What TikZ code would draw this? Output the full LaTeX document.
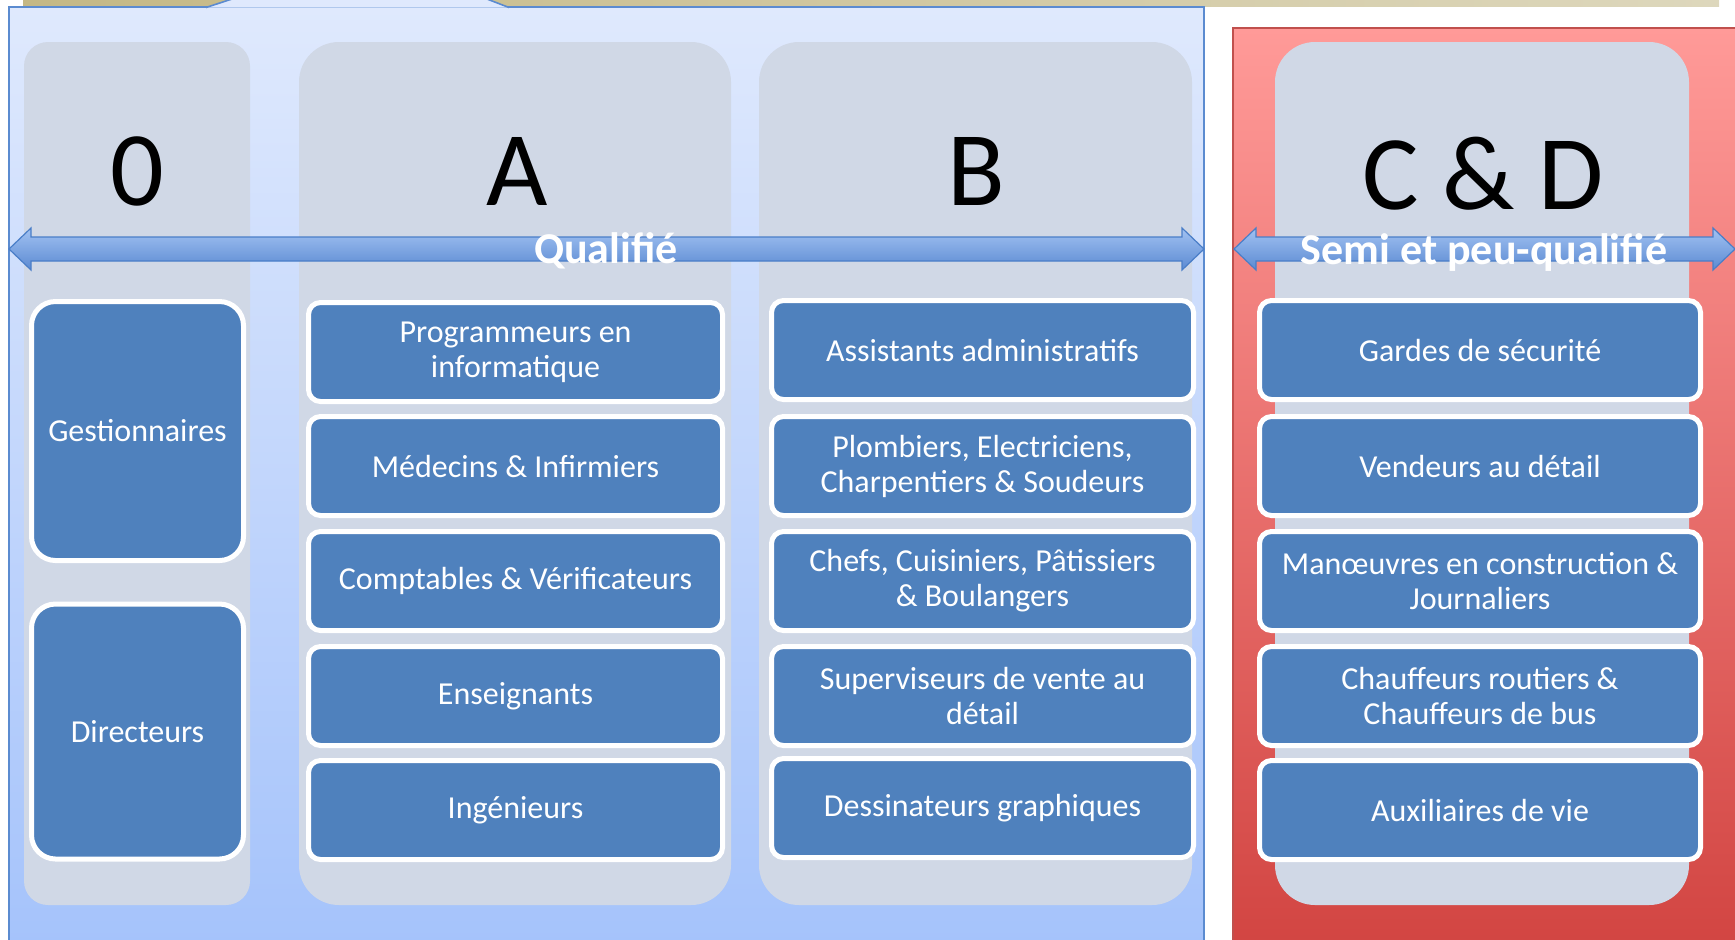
\documentclass[tikz,border=0pt]{standalone}
\usepackage{fontspec}
\setmainfont{Carlito}
\usetikzlibrary{positioning}
\definecolor{panelTop}{HTML}{DFE9FD}
\definecolor{panelBot}{HTML}{A5C3FB}
\definecolor{panelLine}{HTML}{5B8BD0}
\definecolor{redTop}{HTML}{FF9A98}
\definecolor{redBot}{HTML}{D24542}
\definecolor{redLine}{HTML}{C0504D}
\definecolor{tanLeft}{HTML}{C4B885}
\definecolor{tanRight}{HTML}{DDD7BC}
\definecolor{colGray}{HTML}{D0D8E6}
\definecolor{jobBlue}{HTML}{4F81BD}
\definecolor{arrowTop}{HTML}{A2C2F2}
\definecolor{arrowBot}{HTML}{5B8AD2}
\definecolor{arrowLine}{HTML}{4A7EC8}
\tikzset{
  column/.style={fill=colGray, rounded corners=20pt, inner sep=0pt, minimum height=431.5pt},
  job/.style={fill=jobBlue, draw=white, line width=2.5pt, rounded corners=6pt, text=white,
    align=center, inner sep=0pt, font=\fontsize{16}{17.5}\selectfont},
  grade/.style={anchor=base, font=\fontsize{53}{58}\selectfont},
  band/.style={anchor=base, text=white, font=\fontsize{22}{26}\selectfont\bfseries},
  blockarrow/.style={top color=arrowTop, bottom color=arrowBot, draw=arrowLine, line width=0.6pt}
}
\begin{document}
\begin{tikzpicture}[x=0.5pt,y=-0.5pt]
  \useasboundingbox (0,0) rectangle (1735,939);
  % panels
  \fill[left color=tanLeft, right color=tanRight] (23,0) rectangle (1719,6);
  \draw[top color=panelTop, bottom color=panelBot, draw=panelLine, line width=0.8pt]
    (9,7) rectangle (1204,945);
  \filldraw[fill=panelTop, draw=panelLine, line width=0.8pt]
    (206,7.5) -- (232,-1) -- (487,-1) -- (509,7.5);
  \draw[top color=redTop, bottom color=redBot, draw=redLine, line width=0.8pt]
    (1233,28) rectangle (1745,945);
  % columns
  \node[column, rounded corners=12pt, minimum width=113pt] (col0) at (137,473.5) {};
  \node[column, minimum width=216pt] (colA) at (515,473.5) {};
  \node[column, minimum width=216.5pt] (colB) at (975.5,473.5) {};
  \node[column, minimum width=207pt] (colCD) at (1482,473.5) {};
  \node[grade] (g0) at (137,205) {0};
  \node[grade] (gA) at (517,205) {A};
  \node[grade] (gB) at (976,205) {B};
  \node[grade] (gCD) at (1483,209) {C \& D};
  % arrows
  \draw[blockarrow] (9,249) -- (31,228) -- (31,237) -- (1182,237) -- (1182,228)
    -- (1204,249) -- (1182,270) -- (1182,261) -- (31,261) -- (31,270) -- cycle;
  \draw[blockarrow] (1234,249) -- (1256,228) -- (1256,237) -- (1713,237) -- (1713,228)
    -- (1735,249) -- (1713,270) -- (1713,261) -- (1256,261) -- (1256,270) -- cycle;
  \node[band] (qual) at (606,263) {Qualifié};
  \node[band] (semi) at (1484,264) {Semi et peu-qualifié};
  % jobs
  \node[job, rounded corners=12pt, minimum width=106pt, minimum height=129.5pt] (o1) at (137.5,431) {Gestionnaires};
  \node[job, rounded corners=12pt, minimum width=106pt, minimum height=127.5pt] (o2) at (137.5,731.5) {Directeurs};
  \begin{scope}[every node/.append style={minimum height=49.5pt}]
    \node[job, minimum width=207pt] (a1) at (515.5,352) {Programmeurs en\\informatique};
    \node[job, minimum width=207pt] (a2) at (515.5,466) {Médecins \& Infirmiers};
    \node[job, minimum width=207pt] (a3) at (515.5,581) {Comptables \& Vérificateurs};
    \node[job, minimum width=207pt] (a4) at (515.5,696) {Enseignants};
    \node[job, minimum width=207pt] (a5) at (515.5,810) {Ingénieurs};
    \node[job, minimum width=211pt] (b1) at (982.5,350) {Assistants administratifs};
    \node[job, minimum width=211pt] (b2) at (982.5,466) {Plombiers, Electriciens,\\Charpentiers \& Soudeurs};
    \node[job, minimum width=211pt] (b3) at (982.5,581) {Chefs, Cuisiniers, Pâtissiers\\\& Boulangers};
    \node[job, minimum width=211pt] (b4) at (982.5,696) {Superviseurs de vente au\\détail};
    \node[job, minimum width=211pt] (b5) at (982.5,808) {Dessinateurs graphiques};
    \node[job, minimum width=220.5pt] (c1) at (1480,350) {Gardes de sécurité};
    \node[job, minimum width=220.5pt] (c2) at (1480,466) {Vendeurs au détail};
    \node[job, minimum width=220.5pt] (c3) at (1480,581) {Manœuvres en construction \&\\Journaliers};
    \node[job, minimum width=220.5pt] (c4) at (1480,696) {Chauffeurs routiers \&\\Chauffeurs de bus};
    \node[job, minimum width=220.5pt] (c5) at (1480,810) {Auxiliaires de vie};
  \end{scope}
\end{tikzpicture}
\end{document}
